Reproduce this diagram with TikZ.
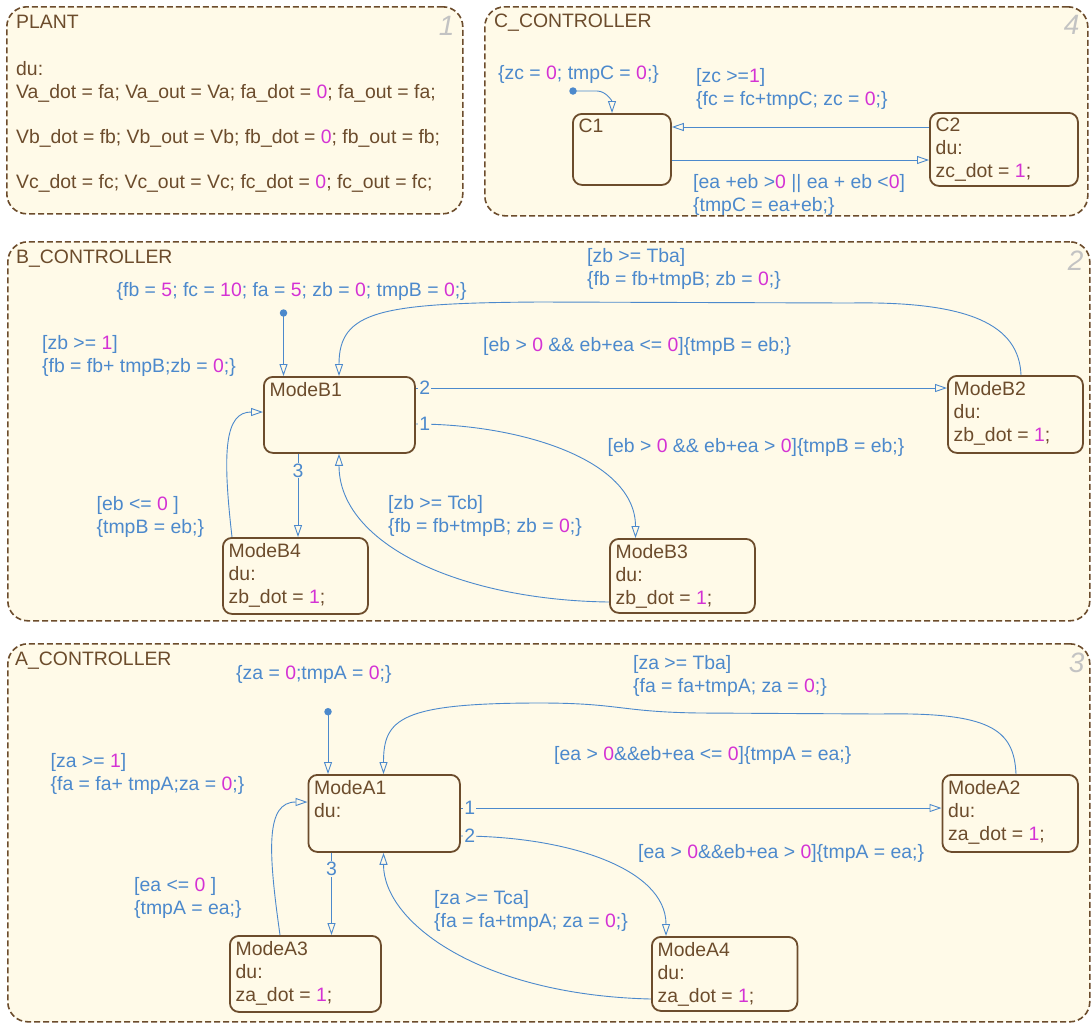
\documentclass[tikz,border=0pt]{standalone}
\usepackage{fontspec}
\setmainfont{Liberation Sans}
\usepackage{tikz}
\usetikzlibrary{arrows.meta}
\usetikzlibrary{calc}
\definecolor{sfbrown}{RGB}{108,76,44}
\definecolor{sfbg}{RGB}{255,250,232}
\definecolor{sfblue}{RGB}{76,137,204}
\definecolor{sfmag}{RGB}{212,50,212}
\definecolor{sfgray}{RGB}{195,195,195}
\newcommand{\mg}[1]{\textcolor{sfmag}{#1}}
\newcommand{\sfn}{\fontsize{19.4}{23}\selectfont}
\tikzset{
 chart/.style={draw=sfbrown, fill=sfbg, line width=1.6pt, dash pattern=on 6pt off 3pt, rounded corners=20pt, anchor=north west, inner sep=0pt},
 chtitle/.style={text=sfbrown, font=\sfn, anchor=north west, inner sep=0pt},
 chnum/.style={text=sfgray, font={\fontsize{28}{30}\selectfont\itshape}},
 mode/.style={draw=sfbrown, fill=sfbg, line width=1.8pt, rounded corners=9pt, anchor=north west, inner sep=0pt},
 modetxt/.style={text=sfbrown, font=\sfn, align=left, anchor=north west, inner sep=0pt},
 guard/.style={text=sfblue, font=\sfn, align=left, anchor=north west, inner sep=0pt},
 trans/.style={draw=sfblue, line width=0.9pt, ->},
 tnum/.style={text=sfblue, font=\sfn, fill=sfbg, inner sep=1pt},
 initdot/.style={circle, fill=sfblue, inner sep=0pt, minimum size=7.5pt},
 >={Triangle[open,length=12pt,width=8pt]},
}

\begin{document}
\begin{tikzpicture}[x=1pt, y=-1pt]
\useasboundingbox (0,0) rectangle (1091,1026);
% charts
\node[chart, minimum width=456, minimum height=207] (plant) at (6,6) {};
\node[chart, minimum width=603, minimum height=209] (cctl) at (484,6) {};
\node[chart, minimum width=1082, minimum height=379] (bctl) at (7,241) {};
\node[chart, minimum width=1082, minimum height=378] (actl) at (7,643) {};
\node[chtitle] (plantt) at (16,15) {PLANT};
\node[chtitle] (cctlt) at (494,14) {C\_CONTROLLER};
\node[chtitle] (bctlt) at (16,250) {B\_CONTROLLER};
\node[chtitle] (actlt) at (15,652) {A\_CONTROLLER};
\node[chnum] (plantn) at ($(plant.north east)+(-17,20)$) {1};
\node[chnum] (cctln) at ($(cctl.north east)+(-17,19)$) {4};
\node[chnum] (bctln) at ($(bctl.north east)+(-15,20)$) {2};
\node[chnum] (actln) at ($(actl.north east)+(-14,20)$) {3};

% PLANT
\node[modetxt, font={\fontsize{19.4}{22.5}\selectfont}] (plantb) at (16,61.5)
 {du:\\Va\_dot = fa; Va\_out = Va; fa\_dot = \mg{0}; fa\_out = fa;\\[22.5pt]
  Vb\_dot = fb; Vb\_out = Vb; fb\_dot = \mg{0}; fb\_out = fb;\\[22.5pt]
  Vc\_dot = fc; Vc\_out = Vc; fc\_dot = \mg{0}; fc\_out = fc;};

% C_CONTROLLER
\node[mode, minimum width=98, minimum height=71] (C1) at (572,113) {};
\node[mode, minimum width=148, minimum height=73] (C2) at (929,112) {};
\node[modetxt] (C1t) at ($(C1.north west)+(6.5,6)$) {C1};
\node[modetxt] (C2t) at ($(C2.north west)+(6.5,6)$) {C2\\du:\\zc\_dot = \mg{1};};
\node[initdot] (C0) at (573,91) {};
\draw[trans] (C0.center) -- +(24,0) .. controls +(9,0) and +(0,-12) .. ($(C1.north west)+(40,0)$);
\draw[trans] ($(C2.north west)+(0,15)$) -- ($(C1.north east)+(0,14)$);
\draw[trans] ($(C1.north east)+(0,47)$) -- ($(C2.north west)+(0,48)$);
\node[guard] (cinit) at (498,65) {\{zc = \mg{0}; tmpC = \mg{0};\}};
\node[guard] (c21) at (696,68) {[zc >=\mg{1}]\\\{fc = fc+tmpC; zc = \mg{0};\}};
\node[guard] (c12) at (693,174) {[ea +eb >\mg{0} || ea + eb <\mg{0}]\\\{tmpC = ea+eb;\}};

% B_CONTROLLER
\node[mode, minimum width=151, minimum height=76] (B1) at (263,376) {};
\node[mode, minimum width=135, minimum height=77] (B2) at (947,375) {};
\node[mode, minimum width=145, minimum height=74] (B3) at (609,538) {};
\node[mode, minimum width=145, minimum height=76] (B4) at (222,537) {};
\node[modetxt] (B1t) at ($(B1.north west)+(6.5,6)$) {ModeB1};
\node[modetxt] (B2t) at ($(B2.north west)+(6.5,6)$) {ModeB2\\du:\\zb\_dot = \mg{1};};
\node[modetxt] (B3t) at ($(B3.north west)+(6.5,6)$) {ModeB3\\du:\\zb\_dot = \mg{1};};
\node[modetxt] (B4t) at ($(B4.north west)+(6.5,6)$) {ModeB4\\du:\\zb\_dot = \mg{1};};
\node[initdot] (B0) at (283.5,313) {};
\draw[trans] (B0.center) -- (B0 |- B1.north);
\draw[trans] ($(B1.north east)+(0,12)$) -- ($(B2.north west)+(0,13)$)
  node[tnum, pos=0, anchor=west, xshift=2pt] {2};
\draw[trans] ($(B1.north east)+(0,48)$) .. controls +(105,0) and +(0,-78) .. ($(B3.north west)+(26.5,0)$)
  node[tnum, pos=0, anchor=west, xshift=2pt] {1};
\draw[trans] ($(B1.south west)+(35,0)$) -- ($(B4.north west)+(76,0)$)
  node[tnum, pos=0.2] {3};
\draw[trans] ($(B4.north west)+(10,0)$) .. controls +(-10,-87) and +(-38,0) .. ($(B1.north west)+(0,36)$);
\draw[trans] ($(B3.north west)+(0,64)$) .. controls +(-150,-2) and +(0,90) .. ($(B1.south west)+(76,0)$);
\draw[trans] ($(B2.north west)+(74,0)$) .. controls +(-2,-50) and +(120,-2) .. (850,303) -- (540,302)
  .. controls +(-160,1) and +(0,-65) .. ($(B1.north west)+(76,0)$);
\node[guard] (binit) at (116.5,282) {\{fb = \mg{5}; fc = \mg{10}; fa = \mg{5}; zb = \mg{0}; tmpB = \mg{0};\}};
\node[guard] (bz1) at (42,335) {[zb >= \mg{1}]\\\{fb = fb+ tmpB;zb = \mg{0};\}};
\node[guard] (b21) at (587,248) {[zb >= Tba]\\\{fb = fb+tmpB; zb = \mg{0};\}};
\node[guard] (b12) at (483,337) {[eb > \mg{0} \&\& eb+ea <= \mg{0}]\{tmpB = eb;\}};
\node[guard] (b13) at (607.5,438) {[eb > \mg{0} \&\& eb+ea > \mg{0}]\{tmpB = eb;\}};
\node[guard] (b41) at (96.5,496) {[eb <= \mg{0} ]\\\{tmpB = eb;\}};
\node[guard] (b31) at (388,495) {[zb >= Tcb]\\\{fb = fb+tmpB; zb = \mg{0};\}};

% A_CONTROLLER
\node[mode, minimum width=151.5, minimum height=77] (A1) at (307.5,774) {};
\node[mode, minimum width=135.5, minimum height=77] (A2) at (941.5,774) {};
\node[mode, minimum width=151, minimum height=76] (A3) at (229,935) {};
\node[mode, minimum width=145.5, minimum height=74] (A4) at (651,936) {};
\node[modetxt] (A1t) at ($(A1.north west)+(6.5,6)$) {ModeA1\\du:};
\node[modetxt] (A2t) at ($(A2.north west)+(6.5,6)$) {ModeA2\\du:\\za\_dot = \mg{1};};
\node[modetxt] (A3t) at ($(A3.north west)+(6.5,6)$) {ModeA3\\du:\\za\_dot = \mg{1};};
\node[modetxt] (A4t) at ($(A4.north west)+(6.5,6)$) {ModeA4\\du:\\za\_dot = \mg{1};};
\node[initdot] (A0) at (328,711.7) {};
\draw[trans] (A0.center) -- (A0 |- A1.north);
\draw[trans] ($(A1.north east)+(0,34)$) -- ($(A2.north west)+(0,34)$)
  node[tnum, pos=0, anchor=west, xshift=2pt] {1};
\draw[trans] ($(A1.north east)+(0,62)$) .. controls +(105,0) and +(0,-68) .. ($(A4.north west)+(15,0)$)
  node[tnum, pos=0, anchor=west, xshift=2pt] {2};
\draw[trans] ($(A1.south west)+(24,0)$) -- ($(A3.north west)+(102.5,0)$)
  node[tnum, pos=0.2] {3};
\draw[trans] ($(A3.north west)+(51,0)$) .. controls +(-12,-85) and +(-42,0) .. ($(A1.north west)+(0,28)$);
\draw[trans] ($(A4.north west)+(0,63)$) .. controls +(-170,-4) and +(0,70) .. ($(A1.south west)+(76,0)$);
\draw[trans] ($(A2.north west)+(74.5,0)$) .. controls +(-2,-45) and +(110,-2) .. (880,714) -- (700,713)
  .. controls +(-80,-1) and +(80,0) .. (540,703) .. controls +(-140,0) and +(0,-55) .. ($(A1.north west)+(76,0)$);
\node[guard] (ainit) at (236,665) {\{za = \mg{0};tmpA = \mg{0};\}};
\node[guard] (az1) at (50.5,753) {[za >= \mg{1}]\\\{fa = fa+ tmpA;za = \mg{0};\}};
\node[guard] (a21) at (633,655) {[za >= Tba]\\\{fa = fa+tmpA; za = \mg{0};\}};
\node[guard] (a12) at (554,746) {[ea > \mg{0}\&\&eb+ea <= \mg{0}]\{tmpA = ea;\}};
\node[guard] (a14) at (638,844) {[ea > \mg{0}\&\&eb+ea > \mg{0}]\{tmpA = ea;\}};
\node[guard] (a31) at (134,877) {[ea <= \mg{0} ]\\\{tmpA = ea;\}};
\node[guard] (a41) at (434,890) {[za >= Tca]\\\{fa = fa+tmpA; za = \mg{0};\}};
\end{tikzpicture}
\end{document}
